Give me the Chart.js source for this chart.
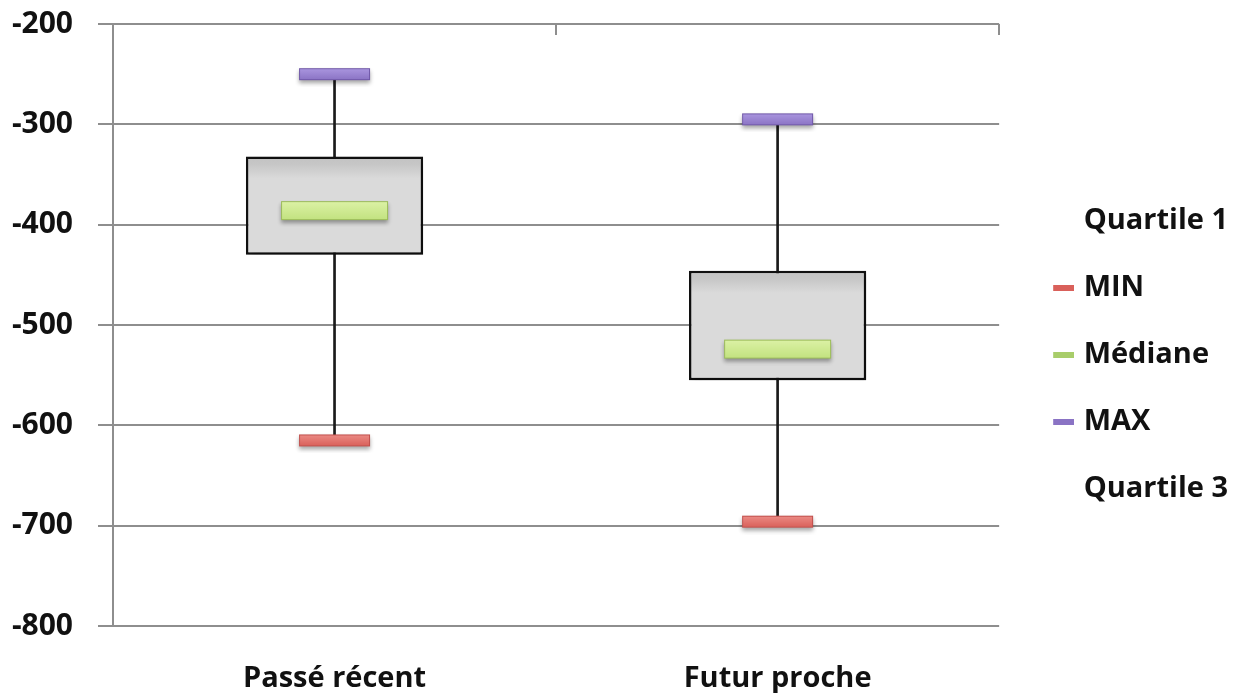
<!DOCTYPE html>
<html><head><meta charset="utf-8">
<script src="https://cdn.jsdelivr.net/npm/chart.js@4.4.0/dist/chart.umd.min.js"></script>
<style>html,body{margin:0;padding:0;background:#fff}</style>
</head><body>
<canvas id="c" width="1244" height="693"></canvas>
<script>
const categories = ['Passé récent', 'Futur proche'];
const quartile1 = [-430, -555];
const quartile3 = [-332, -446];
const medianValues = [-386, -524];
const minValues = [-615, -696];
const maxValues = [-250, -295];
const yTicks = [-800, -700, -600, -500, -400, -300, -200];
const legendLabels = ['Quartile 1', 'MIN', 'Médiane', 'MAX', 'Quartile 3'];

const FONT = 'Open Sans';

function makeBar(w, h, top, bottom, border) {
  const pad = 7;
  const c = document.createElement('canvas');
  c.width = w + 2 * pad; c.height = h + 2 * pad;
  const x = c.getContext('2d');
  x.shadowColor = 'rgba(0,0,0,0.35)'; x.shadowBlur = 4; x.shadowOffsetY = 3;
  const g = x.createLinearGradient(0, pad, 0, pad + h);
  g.addColorStop(0, top); g.addColorStop(1, bottom);
  x.fillStyle = g; x.fillRect(pad, pad, w, h);
  x.shadowColor = 'rgba(0,0,0,0)';
  x.strokeStyle = border; x.lineWidth = 1; x.strokeRect(pad + 0.5, pad + 0.5, w - 1, h - 1);
  return c;
}
function makeLegendDash(color) {
  const c = document.createElement('canvas');
  c.width = 42; c.height = 6;
  const x = c.getContext('2d');
  if (color) { x.fillStyle = color; x.fillRect(21, 0, 21, 6); }
  return c;
}

const minImg = makeBar(71, 12, '#ec8c86', '#d95f59', '#c0504d');
const medImg = makeBar(107, 19, '#dcf2a6', '#c2e27f', '#9bbb59');
const maxImg = makeBar(71, 12, '#ab97e0', '#8a73c4', '#7058a8');
const legendImgs = [makeLegendDash(null), makeLegendDash('#d9605a'), makeLegendDash('#a8cd6a'), makeLegendDash('#8a73c4'), makeLegendDash(null)];

function boxFill(ctx) {
  const chart = ctx.chart;
  if (!chart.chartArea || !ctx.raw) return '#d9d9d9';
  const top = chart.scales.y.getPixelForValue(Math.max(ctx.raw[0], ctx.raw[1]));
  const g = chart.ctx.createLinearGradient(0, top, 0, top + 22);
  g.addColorStop(0, '#c2c2c2');
  g.addColorStop(0.35, '#c6c6c6');
  g.addColorStop(1, '#dadada');
  return g;
}

const boxShadow = {
  id: 'boxShadow',
  beforeDatasetDraw(chart, args) {
    if (chart.data.datasets[args.index].label === 'box') {
      const c = chart.ctx; c.save();
      c.shadowColor = 'rgba(0,0,0,0.35)'; c.shadowBlur = 8; c.shadowOffsetY = 4; c.shadowOffsetX = 2;
    }
  },
  afterDatasetDraw(chart, args) {
    if (chart.data.datasets[args.index].label === 'box') chart.ctx.restore();
  }
};
const topTicks = {
  id: 'topTicks',
  afterDatasetsDraw(chart) {
    const xs = chart.scales.x, ys = chart.scales.y, c = chart.ctx;
    const y0 = ys.getPixelForValue(ys.max);
    c.save(); c.strokeStyle = '#8e8e8e'; c.lineWidth = 2;
    for (let i = 0; i < categories.length; i++) {
      const px = Math.round(xs.getPixelForValue(i + 0.5));
      c.beginPath(); c.moveTo(px, y0); c.lineTo(px, y0 + 11); c.stroke();
    }
    c.restore();
  }
};

new Chart(document.getElementById('c'), {
  type: 'bar',
  data: {
    labels: categories,
    datasets: [
      { type: 'bar', label: 'whisker', data: categories.map((_, i) => [minValues[i], maxValues[i]]),
        backgroundColor: '#1a1a1a', barThickness: 2, grouped: false, order: 5 },
      { type: 'bar', label: 'box', data: categories.map((_, i) => [quartile1[i], quartile3[i]]),
        backgroundColor: boxFill, borderColor: '#111', borderWidth: 2.5, borderSkipped: false,
        barPercentage: 0.4, categoryPercentage: 1, grouped: false, order: 4 },
      { type: 'line', label: 'Médiane', data: medianValues, showLine: false, pointStyle: medImg, order: 2 },
      { type: 'line', label: 'MIN', data: minValues, showLine: false, pointStyle: minImg, order: 1 },
      { type: 'line', label: 'MAX', data: maxValues, showLine: false, pointStyle: maxImg, order: 1 }
    ]
  },
  options: {
    responsive: false,
    animation: false,
    events: [],
    layout: { padding: { top: 8, right: 6, bottom: 0, left: 0 } },
    scales: {
      x: {
        grid: { display: false }, border: { display: false },
        ticks: { padding: 27, color: '#111', font: { family: FONT, weight: 'bold', size: 29 } },
        afterFit: s => { s.height = 67; }
      },
      y: {
        min: -800, max: -200,
        afterBuildTicks: s => { s.ticks = yTicks.map(v => ({ value: v })); },
        grid: { color: '#8e8e8e', lineWidth: 2, tickLength: 15, drawTicks: true },
        border: { display: true, color: '#8e8e8e', width: 2 },
        ticks: { padding: 25, color: '#111', font: { family: FONT, weight: 'bold', size: 30, lineHeight: 0.533 } },
        afterFit: s => { s.width = 113; s.paddingTop = 24; }
      }
    },
    plugins: {
      tooltip: { enabled: false },
      legend: {
        position: 'right',
        title: { display: true, text: ' ', padding: 0, font: { size: 6.67, lineHeight: 1.2 } },
        labels: {
          usePointStyle: true, pointStyleWidth: 32, padding: 38, color: '#111',
          font: { family: FONT, weight: 'bold', size: 29 },
          generateLabels: () => legendLabels.map((t, i) => ({
            text: t, pointStyle: legendImgs[i], fillStyle: 'rgba(0,0,0,0)', strokeStyle: 'rgba(0,0,0,0)',
            lineWidth: 0, hidden: false, fontColor: '#111'
          }))
        }
      }
    }
  },
  plugins: [boxShadow, topTicks]
});
</script>
</body></html>
